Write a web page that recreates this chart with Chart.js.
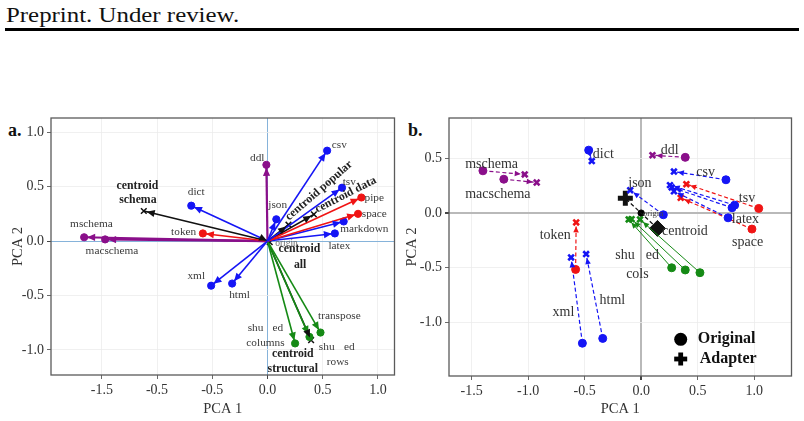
<!DOCTYPE html>
<html><head><meta charset="utf-8">
<script src="https://cdn.jsdelivr.net/npm/chart.js@4.4.1/dist/chart.umd.min.js"></script>
<style>
html,body{margin:0;padding:0;background:#fff;width:804px;height:421px;overflow:hidden;position:relative;font-family:"Liberation Serif",serif;}
#hdr{position:absolute;left:6px;top:2px;font-size:22px;color:#111;transform-origin:0 0;transform:scaleX(1.13);white-space:nowrap;}
#rule{position:absolute;left:5px;top:28px;width:794px;height:3px;background:#000;}
.pl{position:absolute;font-weight:bold;font-size:18px;color:#111;}
canvas{position:absolute;}
</style></head><body>
<div id="hdr">Preprint. Under review.</div>
<div id="rule"></div>
<div class="pl" style="left:8px;top:120px">a.</div>
<div class="pl" style="left:408px;top:120px">b.</div>
<canvas id="ca" width="400" height="321" style="left:0;top:100px"></canvas>
<canvas id="cb" width="404" height="321" style="left:400px;top:100px"></canvas>
<script>
// ---------------- DATA ----------------
// Panel a: PCA loadings of each format (arrows from origin)
const aNames  = ['csv','tsv','pipe','space','markdown','latex','json','dict','xml','html','token','ddl','mschema','macschema','shuffled columns','transpose','shuffled rows'];
const aGroups = ['popular','popular','custom','custom','popular','popular','popular','popular','popular','popular','custom','schema','schema','schema','structural','structural','structural'];
const aPC1 = [0.54, 0.675, 0.85, 0.82, 0.69, 0.61, 0.08, -0.69, -0.51, -0.32, -0.585, -0.01, -1.66, -1.47, 0.25, 0.48, 0.38];
const aPC2 = [0.83, 0.49, 0.40, 0.25, 0.18, 0.07, 0.20, 0.325, -0.41, -0.39, 0.07, 0.70, 0.035, 0.015, -0.94, -0.84, -0.88];
const aCentroidNames = ['schema','popular','data','structural','all'];
const aCentroidPC1 = [-1.12, 0.19, 0.42, 0.395, 0.02];
const aCentroidPC2 = [0.276, 0.15, 0.245, -0.91, -0.01];

// Panel b: original vs adapter embeddings
const bNames  = ['mschema','macschema','dict','ddl','csv','json','tsv','markdown','latex','pipe','space','token','xml','html','shuffled cols','transpose','shuffled rows'];
const bGroups = ['schema','schema','popular','schema','popular','popular','popular','popular','popular','custom','custom','custom','popular','popular','structural','structural','structural'];
const bOrigPC1 = [-1.40, -1.215, -0.464, 0.39, 0.75, 0.196, 0.827, 0.804, 0.769, 1.04, 0.98, -0.58, -0.52, -0.34, 0.27, 0.39, 0.52];
const bOrigPC2 = [0.387, 0.31, 0.576, 0.51, 0.305, -0.015, 0.073, 0.049, -0.043, 0.043, -0.146, -0.515, -1.19, -1.146, -0.50, -0.52, -0.545];
const bAdapPC1 = [-1.03, -0.924, -0.437, 0.10, 0.29, -0.097, 0.255, 0.27, 0.29, 0.40, 0.35, -0.575, -0.62, -0.487, -0.11, -0.085, -0.01];
const bAdapPC2 = [0.354, 0.28, 0.476, 0.53, 0.38, 0.21, 0.256, 0.235, 0.20, 0.265, 0.14, -0.085, -0.405, -0.375, -0.058, -0.055, -0.058];
const bCentroidOrig = [0.144, -0.14];
const bCentroidAdap = [-0.14, 0.135];
const bOriginPt = [0, 0];

// Tick values and labels
const aXTicks = [-1.5, -1.0, -0.5, 0, 0.5, 1.0];
const aXTickLabels = ['-1.5', '-0.5', '-0.5', '0.0', '0.5', '1.0'];
const aYTicks = [-1.0, -0.5, 0, 0.5, 1.0];
const aYTickLabels = ['-1.0', '-0.5', '0.0', '0.5', '1.0'];
const bXTicks = [-1.5, -1.0, -0.5, 0, 0.5, 1.0];
const bXTickLabels = ['-1.5', '-1.0', '-0.5', '0.0', '0.5', '1.0'];
const bYTicks = [-1.0, -0.5, 0, 0.5];
const bYTickLabels = ['-1.0', '-0.5', '0.0', '0.5'];

// ---------------- LAYOUT / STYLE ----------------
const colors = {popular:'#1515f5', custom:'#f01414', schema:'#8a0f8a', structural:'#158a15', centroid:'#111111'};
const SERIF = '"Liberation Serif", serif';

// text label placements (in data units)
const aLabels = [
  ['csv',0.651,0.878],['ddl',-0.093,0.767],['dict',-0.645,0.448],['json',0.093,0.331],['tsv',0.741,0.546],
  ['pipe',0.967,0.393],['space',0.967,0.249],['markdown',0.877,0.110],['latex',0.651,-0.046],['token',-0.759,0.086],
  ['mschema',-1.594,0.157],['macschema',-1.408,-0.092],['xml',-0.645,-0.320],['html',-0.253,-0.491],
  ['transpose',0.651,-0.691],['shu',-0.108,-0.798],['ed',0.093,-0.798],['columns',-0.018,-0.936],
  ['shu',0.536,-0.973],['ed',0.741,-0.973],['rows',0.636,-1.111]
];
const aBoldLabels = [
  ['centroid',-1.178,0.506],['schema',-1.173,0.378],['centroid',0.289,-0.076],['all',0.296,-0.221],
  ['centroid',0.229,-1.040],['structural',0.229,-1.172]
];
const aRotLabels = [['centroid popular',0.467,0.463,-41],['centroid data',0.708,0.424,-27]];
const aSmallLabels = [['origin',0.172,-0.018]];
const bLabels = [
  ['mschema',-1.323,0.448],['macschema',-1.268,0.174],['dict',-0.335,0.537],['ddl',0.253,0.576],['csv',0.570,0.369],
  ['json',-0.011,0.272],['tsv',0.936,0.134],['latex',0.922,-0.055],['space',0.942,-0.268],['centroid',0.387,-0.171],
  ['token',-0.760,-0.204],['shu',-0.143,-0.384],['ed',0.099,-0.384],['cols',-0.033,-0.561],['html',-0.255,-0.802],['xml',-0.687,-0.912]
];
const bSmallLabels = [['origin',0.106,-0.009]];

function axisCfg(axis, min, max, ticks, labels, title, boxSize, titlePad, zeroColor, zeroWidth){
  return {
    type:'linear', min:min, max:max,
    afterBuildTicks: s => { s.ticks = ticks.map(v => ({value:v})); },
    afterFit: s => { if (axis === 'x') s.height = boxSize; else s.width = boxSize; },
    ticks: { callback: (v, i) => labels[i], font:{family:SERIF, size:14}, color:'#333', padding:3, maxRotation:0, autoSkip:false },
    grid: {
      color: c => (c.tick && c.tick.value === 0) ? zeroColor : '#ececec',
      lineWidth: c => (c.tick && c.tick.value === 0) ? zeroWidth : 0.8,
      tickColor:'#444', tickLength:4, drawTicks:true
    },
    border: { display:false },
    title: { display:true, text:title, font:{family:SERIF, size:14.5}, color:'#333', padding:titlePad }
  };
}

function arrowHead(ctx, x0, y0, x1, y1, back, len, half, color){
  const dx = x1 - x0, dy = y1 - y0, L = Math.hypot(dx, dy);
  if (L < 2) return;
  const ux = dx / L, uy = dy / L;
  const tx = x1 - ux * back, ty = y1 - uy * back;
  const bx = tx - ux * len, by = ty - uy * len;
  ctx.beginPath();
  ctx.moveTo(tx, ty);
  ctx.lineTo(bx - uy * half, by + ux * half);
  ctx.lineTo(bx + uy * half, by - ux * half);
  ctx.closePath();
  ctx.fillStyle = color; ctx.fill();
}

const decoPlugin = {
  id:'deco',
  afterDatasetsDraw(chart, args, opts){
    const {ctx, scales:{x, y}} = chart;
    ctx.save();
    // arrowheads
    chart.data.datasets.forEach(ds => {
      if (!ds.arrow) return;
      const p0 = ds.data[0], p1 = ds.data[1];
      arrowHead(ctx, x.getPixelForValue(p0.x), y.getPixelForValue(p0.y), x.getPixelForValue(p1.x), y.getPixelForValue(p1.y),
        ds.arrow.back, ds.arrow.len, ds.arrow.half, ds.borderColor);
    });
    // labels
    ctx.textAlign = 'center'; ctx.textBaseline = 'middle';
    (opts.groups || []).forEach(g => {
      ctx.font = g.font; ctx.fillStyle = g.color;
      g.items.forEach(it => {
        const px = x.getPixelForValue(it[1]), py = y.getPixelForValue(it[2]);
        if (it[3]) {
          ctx.save(); ctx.translate(px, py); ctx.rotate(it[3] * Math.PI / 180); ctx.fillText(it[0], 0, 0); ctx.restore();
        } else ctx.fillText(it[0], px, py);
      });
    });
    ctx.restore();
  },
  afterDraw(chart, args, opts){
    const {ctx, chartArea:a} = chart;
    ctx.save();
    ctx.strokeStyle = '#5a5a5a'; ctx.lineWidth = 1.3;
    ctx.strokeRect(a.left, a.top, a.right - a.left, a.bottom - a.top);
    if (opts.legend) {
      const L = opts.legend;
      ctx.fillStyle = '#000';
      ctx.beginPath(); ctx.arc(L.x, L.y1, 6.5, 0, Math.PI * 2); ctx.fill();
      ctx.fillRect(L.x - 6.5, L.y2 - 2.4, 13, 4.8);
      ctx.fillRect(L.x - 2.4, L.y2 - 6.5, 4.8, 13);
      ctx.font = 'bold 16px ' + SERIF; ctx.textAlign = 'left'; ctx.textBaseline = 'middle';
      ctx.fillStyle = '#111';
      ctx.fillText('Original', L.x + 17, L.y1);
      ctx.fillText('Adapter', L.x + 19, L.y2);
    }
    ctx.restore();
  }
};

// ---------------- PANEL A ----------------
const aDatasets = [];
aNames.forEach((n, i) => {
  const c = colors[aGroups[i]];
  aDatasets.push({
    label:n, data:[{x:0, y:0}, {x:aPC1[i], y:aPC2[i]}], showLine:true,
    borderColor:c, backgroundColor:c, borderWidth: aGroups[i] === 'schema' ? 2.2 : 1.6,
    pointRadius:[0, 3.6], pointBorderWidth:1, pointStyle:'circle', pointBorderColor:c, pointBackgroundColor:c,
    arrow:{back:3, len:8, half:3.6}
  });
});
aCentroidNames.forEach((n, i) => {
  const c = colors.centroid;
  aDatasets.push({
    label:'centroid ' + n, data:[{x:0, y:0}, {x:aCentroidPC1[i], y:aCentroidPC2[i]}], showLine:true,
    borderColor:c, backgroundColor:c, borderWidth:1.6,
    pointRadius:[0, 4], pointBorderWidth:1.5, pointStyle:'crossRot', pointBorderColor:c,
    arrow:{back:3, len:8, half:3.6}
  });
});

new Chart(document.getElementById('ca'), {
  type:'scatter',
  data:{datasets:aDatasets},
  options:{
    responsive:false, animation:false, events:[],
    layout:{padding:{left:0, right:5, top:18, bottom:0}},
    scales:{
      x: axisCfg('x', -1.96, 1.15, aXTicks, aXTickLabels, 'PCA 1', 46, {top:0, bottom:3.3}, '#86b3da', 1),
      y: axisCfg('y', -1.23, 1.13, aYTicks, aYTickLabels, 'PCA 2', 51, {top:9, bottom:0}, '#86b3da', 1)
    },
    plugins:{
      legend:{display:false}, tooltip:{enabled:false},
      deco:{groups:[
        {font:'11.3px ' + SERIF, color:'#3a3a3a', items:aLabels},
        {font:'bold 11.8px ' + SERIF, color:'#222', items:aBoldLabels},
        {font:'bold 11.8px ' + SERIF, color:'#222', items:aRotLabels},
        {font:'9.5px ' + SERIF, color:'#666', items:aSmallLabels}
      ]}
    }
  },
  plugins:[decoPlugin]
});

// ---------------- PANEL B ----------------
const bDatasets = [];
bNames.forEach((n, i) => {
  const c = colors[bGroups[i]];
  const solid = bGroups[i] === 'structural';
  bDatasets.push({
    label:n, data:[{x:bOrigPC1[i], y:bOrigPC2[i]}, {x:bAdapPC1[i], y:bAdapPC2[i]}], showLine:true,
    borderColor:c, backgroundColor:c, borderWidth: solid ? 1 : 1.2, borderDash: solid ? [] : [4, 2.5],
    pointStyle:['circle', 'crossRot'], pointRadius:[4, 4], pointBorderWidth:[1, 2.6],
    pointBorderColor:c, pointBackgroundColor:c,
    arrow:{back:4, len:6, half:2.8}
  });
});
bDatasets.push({
  label:'centroid', data:[{x:bCentroidOrig[0], y:bCentroidOrig[1]}, {x:bCentroidAdap[0], y:bCentroidAdap[1]}], showLine:true,
  borderColor:'#111', backgroundColor:'#111', borderWidth:1.2, borderDash:[4, 2.5],
  pointStyle:['rectRot', 'cross'], pointRadius:[8, 7.5], pointBorderWidth:[1, 5],
  pointBorderColor:'#111', pointBackgroundColor:'#111'
});
bDatasets.push({
  label:'origin', data:[{x:bOriginPt[0], y:bOriginPt[1]}], showLine:false,
  pointStyle:'circle', pointRadius:3.2, pointBackgroundColor:'#000', pointBorderColor:'#000', borderColor:'#000'
});

new Chart(document.getElementById('cb'), {
  type:'scatter',
  data:{datasets:bDatasets},
  options:{
    responsive:false, animation:false, events:[],
    layout:{padding:{left:0, right:11, top:18, bottom:0}},
    scales:{
      x: axisCfg('x', -1.70, 1.33, bXTicks, bXTickLabels, 'PCA 1', 45, {top:0, bottom:3.3}, '#b9b9b9', 2),
      y: axisCfg('y', -1.49, 0.87, bYTicks, bYTickLabels, 'PCA 2', 49, {top:3.3, bottom:0}, '#b9b9b9', 2)
    },
    plugins:{
      legend:{display:false}, tooltip:{enabled:false},
      deco:{
        groups:[
          {font:'14px ' + SERIF, color:'#333', items:bLabels},
          {font:'8.5px ' + SERIF, color:'#444', items:bSmallLabels}
        ],
        legend:{x:280.7, y1:239.3, y2:259}
      }
    }
  },
  plugins:[decoPlugin]
});
</script>
</body></html>
